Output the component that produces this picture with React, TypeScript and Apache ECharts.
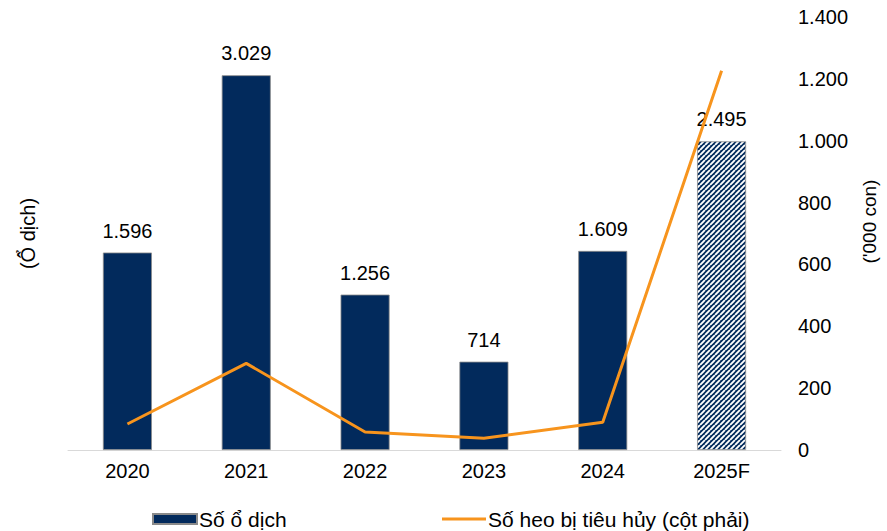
import React, { useEffect, useRef } from "react";
import * as echarts from "echarts";

const categories = ["2020", "2021", "2022", "2023", "2024", "2025F"];
const outbreaks = [1596, 3029, 1256, 714, 1609, 2495];
const culledPigs = [84, 280, 58, 38, 90, 1226];
const rightTicks = [0, 200, 400, 600, 800, 1000, 1200, 1400];

const NAVY = "#022a5c";
const ORANGE = "#f7941d";
const FONT = "Liberation Sans, Arial, sans-serif";

function fmt(v: number): string {
  return String(v).replace(/\B(?=(\d{3})+(?!\d))/g, ".");
}

function makePattern() {
  const s = 5;
  const c = document.createElement("canvas");
  c.width = s;
  c.height = s;
  const ctx = c.getContext("2d")!;
  ctx.fillStyle = NAVY;
  ctx.fillRect(0, 0, s, s);
  ctx.strokeStyle = "#ffffff";
  ctx.lineWidth = 1.9;
  ctx.beginPath();
  for (let k = -1; k <= 1; k++) {
    ctx.moveTo(k * s, s);
    ctx.lineTo(k * s + s, 0);
  }
  ctx.stroke();
  return { image: c.toDataURL(), repeat: "repeat", imageWidth: s, imageHeight: s };
}

export default function App() {
  const ref = useRef<HTMLDivElement>(null);
  useEffect(() => {
    const chart = echarts.init(ref.current!, null, { renderer: "svg" });
    const pattern = makePattern();
    const barData = outbreaks.map((v, i) =>
      i === outbreaks.length - 1
        ? { value: v, itemStyle: { color: pattern as any } }
        : v
    );
    const legendText = { fontSize: 21, lineHeight: 22, color: "#000", fontFamily: FONT, padding: [0, 0, 0, -3] };
    chart.setOption({
      animation: false,
      textStyle: { fontFamily: FONT },
      grid: { left: 68, right: 103, top: 17, bottom: 81 },
      legend: [
        {
          data: [{ name: "Số ổ dịch", icon: "rect" }],
          left: 152,
          top: 508,
          padding: 0,
          itemWidth: 44,
          itemHeight: 10,
          textStyle: legendText,
        },
        {
          data: [{ name: "Số heo bị tiêu hủy (cột phải)", icon: "rect" }],
          left: 442,
          top: 508,
          padding: 0,
          itemWidth: 44,
          itemHeight: 3,
          textStyle: legendText,
        },
      ],
      xAxis: {
        type: "category",
        data: categories,
        axisLine: { lineStyle: { color: "#d9d9d9", width: 1 } },
        axisTick: { show: false },
        axisLabel: { fontSize: 20, color: "#000", margin: 11, fontFamily: FONT },
      },
      yAxis: [
        {
          type: "value",
          min: 0,
          max: 3500,
          interval: 500,
          name: "(Ổ dịch)",
          nameLocation: "middle",
          nameRotate: 90,
          nameGap: 30,
          nameTextStyle: { fontSize: 20, color: "#000", fontFamily: FONT },
          axisLabel: { show: false },
          axisLine: { show: false },
          axisTick: { show: false },
          splitLine: { show: false },
        },
        {
          type: "value",
          min: rightTicks[0],
          max: rightTicks[rightTicks.length - 1],
          interval: 200,
          position: "right",
          name: "('000 con)",
          nameLocation: "middle",
          nameRotate: 90,
          nameGap: 79,
          nameTextStyle: { fontSize: 19, color: "#000", fontFamily: FONT, padding: [0, 0, 0, 24] },
          axisLabel: {
            fontSize: 20,
            color: "#000",
            margin: 17,
            fontFamily: FONT,
            formatter: (v: number) => fmt(v),
          },
          axisLine: { show: false },
          axisTick: { show: false },
          splitLine: { show: false },
        },
      ],
      series: [
        {
          name: "Số ổ dịch",
          type: "bar",
          yAxisIndex: 0,
          barWidth: 49,
          data: barData,
          itemStyle: { color: NAVY, borderColor: "#8a8a8a", borderWidth: 0.8 },
          label: {
            show: true,
            position: "top",
            distance: 12,
            fontSize: 20,
            color: "#000",
            fontFamily: FONT,
            formatter: (p: any) => fmt(p.value),
          },
        },
        {
          name: "Số heo bị tiêu hủy (cột phải)",
          type: "line",
          yAxisIndex: 1,
          data: culledPigs,
          symbol: "none",
          lineStyle: { color: ORANGE, width: 3 },
          itemStyle: { color: ORANGE },
        },
      ],
    });
    return () => chart.dispose();
  }, []);
  return <div ref={ref} style={{ width: 887, height: 531, position: "absolute", left: 0, top: 0 }} />;
}
